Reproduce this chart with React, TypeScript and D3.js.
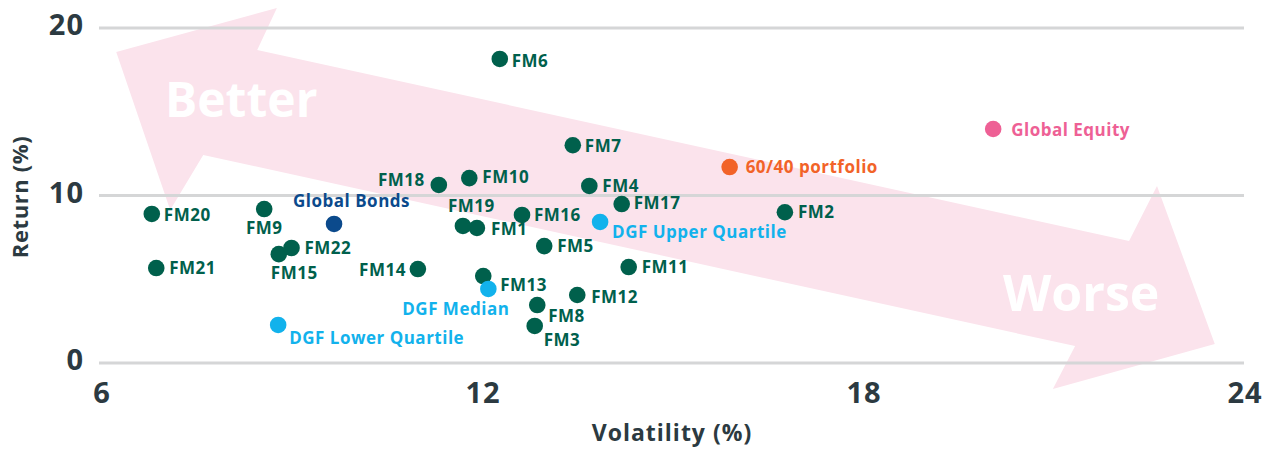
import React, { useEffect, useRef } from 'react';
import * as d3 from 'd3';

// data
const names = [
  'FM1', 'FM2', 'FM3', 'FM4', 'FM5', 'FM6', 'FM7', 'FM8', 'FM9', 'FM10', 'FM11',
  'FM12', 'FM13', 'FM14', 'FM15', 'FM16', 'FM17', 'FM18', 'FM19', 'FM20', 'FM21', 'FM22',
  'Global Bonds', 'Global Equity', '60/40 portfolio',
  'DGF Upper Quartile', 'DGF Median', 'DGF Lower Quartile',
];
const volatility = [
  11.92, 16.77, 12.83, 13.69, 12.98, 12.28, 13.43, 12.87, 8.57, 11.8, 14.31,
  13.5, 12.02, 10.99, 8.8, 12.63, 14.2, 11.32, 11.7, 6.8, 6.87, 9.0,
  9.67, 20.05, 15.9,
  13.86, 12.1, 8.79,
];
const returns = [
  8.06, 9.0, 2.21, 10.57, 6.98, 18.15, 13.0, 3.46, 9.19, 11.04, 5.73,
  4.06, 5.19, 5.61, 6.5, 8.84, 9.49, 10.63, 8.18, 8.9, 5.67, 6.87,
  8.3, 13.97, 11.7,
  8.42, 4.42, 2.27,
];
const groups = [
  ...Array(22).fill('fund'),
  'bonds', 'equity', 'balanced',
  'dgf', 'dgf', 'dgf',
];
const xTicks = [6, 12, 18, 24];
const yTicks = [0, 10, 20];

// big "better / worse" arrow outline, in (volatility, return) units
const arrowShape: [number, number][] = [
  [6.24, 18.57], [8.77, 21.19], [8.46, 18.69], [22.19, 7.28], [22.63, 10.57],
  [23.54, 1.13], [20.99, -1.55], [21.34, 1.01], [7.61, 12.42], [7.09, 9.13],
];

const colors: Record<string, string> = {
  fund: '#00604c',
  bonds: '#0b4a8c',
  equity: '#ee6095',
  balanced: '#f26328',
  dgf: '#12b2ec',
};

// label layout: dx, dy (from point centre), anchor
const labelPos: Record<string, [number, number, string]> = {
  FM1: [14, 7, 'start'], FM2: [13, 6, 'start'], FM3: [9, 20, 'start'], FM4: [13, 6, 'start'],
  FM5: [13, 6, 'start'], FM6: [12, 8, 'start'], FM7: [12, 7, 'start'], FM8: [11, 17, 'start'],
  FM9: [0, 25, 'middle'], FM10: [13, 5, 'start'], FM11: [13, 6, 'start'], FM12: [14, 8, 'start'],
  FM13: [17, 15, 'start'], FM14: [-12, 7, 'end'], FM15: [-8, 25, 'start'], FM16: [12, 6, 'start'],
  FM17: [12, 5, 'start'], FM18: [-14, 1, 'end'], FM19: [-15, -14, 'start'], FM20: [12, 7, 'start'],
  FM21: [13, 6, 'start'], FM22: [13, 6, 'start'],
  'Global Bonds': [-41, -17, 'start'], 'Global Equity': [18, 7, 'start'],
  '60/40 portfolio': [16, 6, 'start'],
  'DGF Upper Quartile': [12, 16, 'start'], 'DGF Median': [21, 26, 'end'],
  'DGF Lower Quartile': [11, 19, 'start'],
};

const W = 1274;
const H = 450;
const FONT = '"Open Sans", "Noto Sans", sans-serif';

const App = () => {
  const svgRef = useRef<SVGSVGElement>(null);

  useEffect(() => {
    const x = d3.scaleLinear().domain([6, 24]).range([101, 1244]);
    const y = d3.scaleLinear().domain([0, 20]).range([363, 28]);

    const svg = d3.select(svgRef.current);
    svg.selectAll('*').remove();

    // arrow in the background
    svg.append('path')
      .attr('d', d3.line()(arrowShape.map(d => [x(d[0]), y(d[1])]))! + 'Z')
      .attr('fill', '#fbe3ec');

    svg.append('text')
      .attr('x', 165).attr('y', 117)
      .attr('font-family', FONT).attr('font-weight', 700).attr('font-size', 48)
      .attr('fill', '#fff')
      .text('Better');
    svg.append('text')
      .attr('x', 1003).attr('y', 311)
      .attr('font-family', FONT).attr('font-weight', 700).attr('font-size', 50)
      .attr('fill', '#fff')
      .text('Worse');

    // gridlines
    svg.append('g').selectAll('line')
      .data(yTicks)
      .join('line')
      .attr('x1', x(6) - 2).attr('x2', x(24))
      .attr('y1', d => y(d)).attr('y2', d => y(d))
      .attr('stroke', '#d5d6d7').attr('stroke-width', 3);

    // tick labels
    svg.append('g').selectAll('text')
      .data(yTicks)
      .join('text')
      .attr('x', 84).attr('y', d => y(d) + 7)
      .attr('text-anchor', 'end')
      .attr('font-family', FONT).attr('font-weight', 700).attr('font-size', 29)
      .attr('letter-spacing', 1)
      .attr('fill', '#2c3a41')
      .text(d => d);

    svg.append('g').selectAll('text')
      .data(xTicks)
      .join('text')
      .attr('x', d => x(d) + 1).attr('y', 403)
      .attr('text-anchor', 'middle')
      .attr('font-family', FONT).attr('font-weight', 700).attr('font-size', 29)
      .attr('letter-spacing', 1)
      .attr('fill', '#2c3a41')
      .text(d => d);

    // axis titles
    svg.append('text')
      .attr('x', 672).attr('y', 441)
      .attr('text-anchor', 'middle')
      .attr('font-family', FONT).attr('font-weight', 700).attr('font-size', 23)
      .attr('letter-spacing', 1)
      .attr('fill', '#2c3a41')
      .text('Volatility (%)');
    svg.append('text')
      .attr('transform', 'translate(28,197) rotate(-90)')
      .attr('text-anchor', 'middle')
      .attr('font-family', FONT).attr('font-weight', 700).attr('font-size', 22)
      .attr('letter-spacing', 0.6)
      .attr('fill', '#2c3a41')
      .text('Return (%)');

    // points
    const idx = d3.range(names.length);
    svg.append('g').selectAll('circle')
      .data(idx)
      .join('circle')
      .attr('cx', i => x(volatility[i]))
      .attr('cy', i => y(returns[i]))
      .attr('r', 8.3)
      .attr('fill', i => colors[groups[i]]);

    svg.append('g').selectAll('text')
      .data(idx)
      .join('text')
      .attr('x', i => x(volatility[i]) + labelPos[names[i]][0])
      .attr('y', i => y(returns[i]) + labelPos[names[i]][1])
      .attr('text-anchor', i => labelPos[names[i]][2])
      .attr('font-family', FONT).attr('font-weight', 700).attr('font-size', 17)
      .attr('letter-spacing', 0.5)
      .attr('fill', i => colors[groups[i]])
      .text(i => names[i]);
  }, []);

  return (
    <svg
      ref={svgRef}
      width={W}
      height={H}
      style={{ position: 'absolute', left: 0, top: 0, background: '#fff' }}
    />
  );
};

export default App;
